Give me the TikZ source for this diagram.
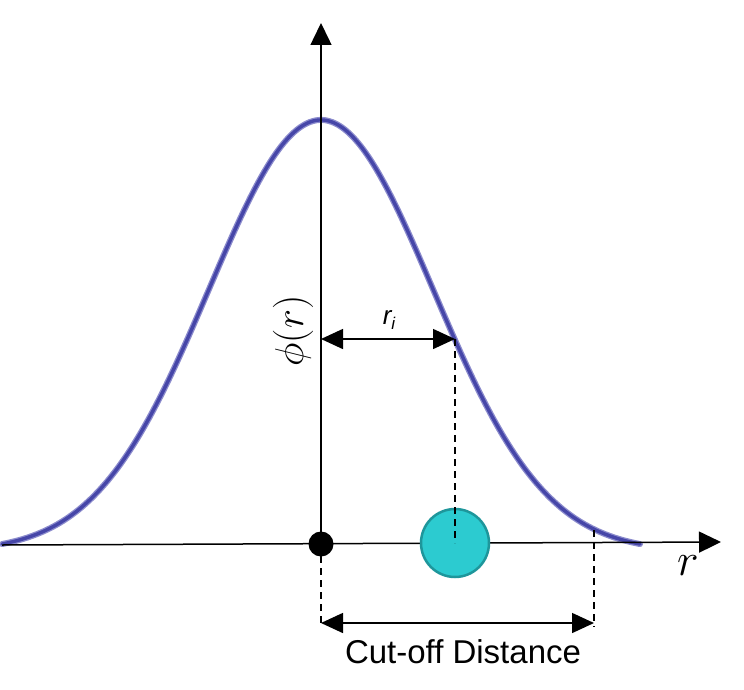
\documentclass[tikz,border=0pt]{standalone}
\usepackage{fontspec}
\setmainfont{Liberation Sans}
\usetikzlibrary{arrows.meta}
\definecolor{curveblue}{RGB}{70,70,168}
\definecolor{curvelight}{RGB}{140,140,205}
\definecolor{cyanfill}{RGB}{44,203,208}
\definecolor{cyanedge}{RGB}{30,150,155}
\tikzset{
  axis/.style={line width=1.5pt,-{Triangle[length=22pt,width=21pt]}},
  dimarrow/.style={line width=1.5pt,{Triangle[length=22pt,width=20pt]}-{Triangle[length=22pt,width=20pt]}},
  guide/.style={line width=1.3pt,dash pattern=on 7pt off 5pt},
  lbl/.style={inner sep=0pt}
}
\begin{document}
\begin{tikzpicture}[x=1pt,y=-1pt]
\useasboundingbox (0,0) rectangle (744,690);
% key points
\coordinate (O) at (321,544);
\coordinate (Ytip) at (321,23);
\coordinate (Xstart) at (2,545);
\coordinate (Xtip) at (721,542);
\coordinate (Ri) at (455,339);
\coordinate (RiAx) at (321,339);
\coordinate (Pb) at (455,543);
\coordinate (Cut) at (594,530);
\coordinate (CutL) at (321,623);
\coordinate (CutR) at (594,623);
\coordinate (OD) at (321,627);
\coordinate (CutD) at (594,627);
% curve
\def\gauss{(544-424*(exp(-(((\x-321)/100)^2)/2.52)-0.0177)/0.9823)}
\draw[curvelight,line width=6pt,line cap=round] plot[domain=2:640,samples=200,smooth] (\x,{\gauss});
\draw[curveblue,line width=3.4pt,line cap=round] plot[domain=2:640,samples=200,smooth] (\x,{\gauss});
% axes
\draw[axis] (Xstart) -- (Xtip);
\draw[axis] (O) -- (Ytip);
% dashed guides
\draw[guide] (O) -- (OD);
\draw[guide] (Cut) -- (CutD);
% dimension arrows
\draw[dimarrow] (RiAx) -- (Ri);
\draw[dimarrow] (CutL) -- (CutR);
% particles
\node[circle,fill=black,minimum size=25pt,inner sep=0pt] (dot) at (O) {};
\node[circle,fill=cyanfill,draw=cyanedge,line width=2.5pt,minimum size=68pt,inner sep=0pt] (ball) at (Pb) {};
\draw[guide] (Ri) -- (ball.center);
% labels
\node[lbl] (rilbl) at (389,320) {\fontsize{26}{26}\selectfont\itshape r\raisebox{-5pt}{\fontsize{17}{17}\selectfont i}};
\node[lbl,rotate=90] (philbl) at (293,331) {\scalebox{1.62}{\Huge$\phi(r)$}};
\node[lbl] (rlbl) at (688,566) {\scalebox{1.85}{\Huge$r$}};
\node[lbl] (cutlbl) at (463,652) {\fontsize{33}{33}\selectfont Cut-off Distance};
\end{tikzpicture}
\end{document}
